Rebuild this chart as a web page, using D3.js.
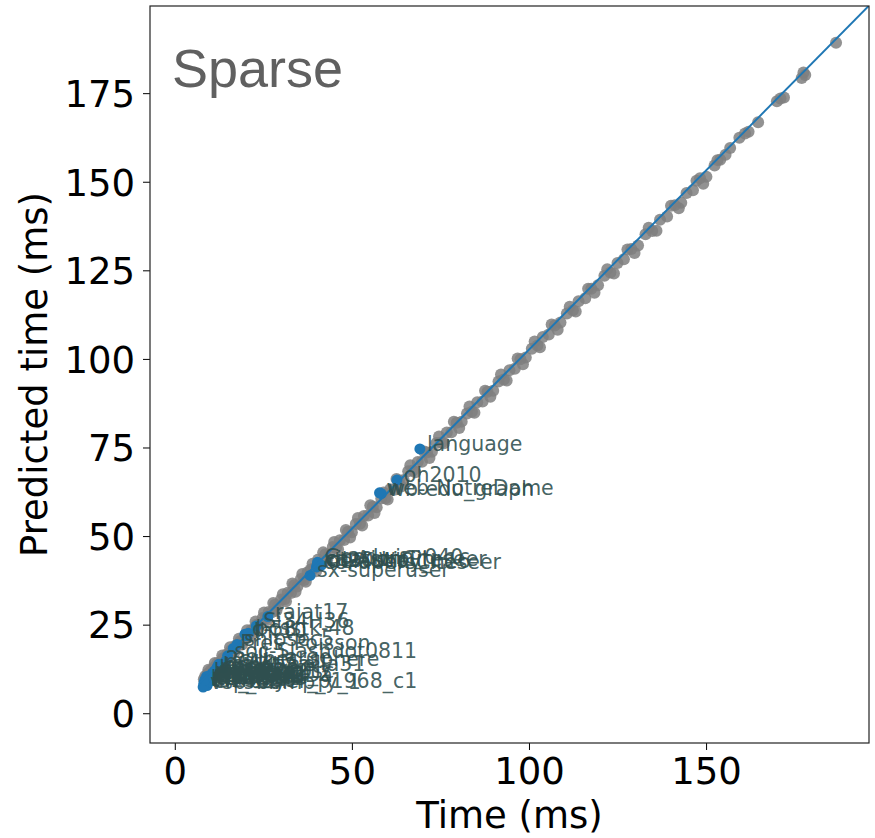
<!DOCTYPE html>
<html>
<head>
<meta charset="utf-8">
<script src="https://cdn.jsdelivr.net/npm/d3@7/dist/d3.min.js"></script>
<style>
  body { margin: 0; background: #fff; }
  svg { display: block; }
</style>
</head>
<body>
<div id="chart"></div>
<script>
// measured vs predicted time, unlabeled matrices (gray)
var grayTime = [8.2, 8.6, 9.0, 9.3, 9.8, 10.2, 10.7, 11.1, 11.6, 12.0, 12.5, 13.1, 13.6, 14.2, 14.8, 15.3, 15.9, 16.6, 17.2, 17.9,
  18.5, 19.3, 20.1, 20.8, 21.6, 22.4, 23.1, 24.0, 24.8, 25.7, 26.5, 27.4, 28.3, 29.1, 30.0, 31.0, 31.9, 32.8, 33.7, 34.6,
  35.6, 36.5, 37.5, 38.4, 39.4, 40.5, 41.4, 42.5, 43.6, 44.6, 45.5, 46.6, 47.8, 48.9, 50.0, 51.1, 52.3, 53.4, 54.6, 55.9,
  57.0, 58.3, 59.5, 60.8, 62.0, 63.3, 64.6, 65.9, 67.2, 68.6, 69.8, 71.2, 72.6, 73.9, 75.3, 76.8, 78.1, 79.6, 81.0, 82.5,
  83.9, 85.4, 86.9, 88.3, 89.9, 91.4, 92.9, 94.5, 96.0, 97.6, 99.1, 100.8, 102.4, 103.9, 105.6, 107.3, 108.9, 110.7, 112.4, 114.0,
  115.9, 117.6, 119.5, 121.3, 123.0, 125.0, 126.8, 128.9, 130.8, 132.9, 134.8, 137.0, 139.0, 141.2, 143.0, 144.5, 146.3, 148.3, 150.1, 152.4,
  154.0, 156.8, 159.4, 162.0, 164.7, 170.0, 172.0, 177.0, 178.0, 186.7,
  9.5, 10.4, 11.3, 12.2, 13.4, 14.5, 15.6, 16.9, 18.1, 19.0, 20.4, 21.2, 22.8, 23.5, 25.2, 26.1, 27.8, 28.7, 30.5, 31.4,
  33.2, 34.1, 36.0, 37.0, 38.9, 39.9, 41.9, 43.0, 45.0, 46.1, 48.3, 49.5, 51.7, 52.9, 55.2, 56.4, 58.9, 60.1, 62.6, 63.9,
  66.5, 67.9, 70.4, 71.9, 74.6, 76.0, 78.8, 80.3, 83.2, 84.6, 87.6, 89.1, 92.1, 93.7, 96.8, 98.3, 101.6, 103.1, 106.4, 108.1,
  111.5, 113.2, 116.7, 118.5, 122.1, 124.0, 127.8, 129.8, 133.8, 136.0, 140.1, 142.3, 147.3, 149.2, 153.2, 155.5, 161.0, 171.0, 177.5];
var grayPred = [9.6, 10.5, 10.1, 11.2, 11.0, 12.1, 12.0, 13.0, 12.8, 14.1, 13.9, 14.6, 15.5, 15.4, 16.7, 16.5, 17.8, 17.9, 19.1, 19.2,
  20.4, 20.6, 22.0, 22.1, 23.5, 23.6, 25.0, 25.3, 26.9, 26.8, 28.6, 28.5, 30.6, 30.2, 32.1, 32.2, 34.0, 33.9, 36.1, 35.8,
  37.9, 37.6, 39.8, 40.6, 40.9, 43.4, 42.6, 44.9, 44.8, 46.9, 46.7, 48.8, 48.9, 51.2, 51.1, 53.4, 53.5, 55.7, 55.8, 58.3,
  58.1, 60.6, 60.7, 63.2, 63.1, 65.7, 65.8, 68.3, 68.5, 70.9, 71.0, 73.6, 73.8, 76.3, 76.4, 79.2, 79.3, 82.0, 82.3, 84.6,
  85.1, 87.8, 88.0, 90.7, 91.0, 93.6, 94.2, 96.8, 97.2, 99.9, 100.4, 102.9, 103.8, 106.2, 106.9, 109.4, 110.3, 112.8, 113.7, 116.3,
  117.1, 119.8, 120.8, 123.5, 124.4, 127.1, 128.1, 131.0, 132.0, 135.2, 136.1, 139.3, 140.2, 143.4, 144.1, 146.8, 147.6, 151.0, 151.4, 154.6,
  156.2, 159.5, 162.4, 164.1, 166.8, 172.7, 173.8, 179.3, 180.1, 189.2,
  12.3, 11.2, 14.2, 12.9, 16.3, 14.9, 18.6, 17.3, 21.0, 19.4, 23.4, 21.6, 25.9, 23.8, 28.4, 26.3, 31.1, 28.9, 33.6, 31.6,
  36.6, 34.3, 39.3, 37.1, 42.2, 40.1, 45.4, 43.2, 48.3, 46.3, 51.7, 49.6, 55.1, 53.0, 58.7, 56.5, 62.3, 60.3, 66.1, 64.0,
  70.0, 68.0, 73.9, 72.0, 78.1, 76.2, 82.3, 80.5, 86.6, 84.8, 91.0, 89.3, 95.6, 93.9, 100.1, 98.5, 104.9, 103.3, 109.7, 108.2,
  114.7, 113.4, 119.8, 118.7, 125.3, 124.1, 130.9, 129.9, 137.0, 136.2, 143.2, 142.5, 150.3, 149.4, 156.1, 157.6, 163.6, 173.5, 180.8];

// labeled matrices (blue)
var labelNames = ["language", "oh2010", "web-NotreDame", "wb-edu_graph",
  "coPapersCiteseer", "citationCiteseer", "ca-AstroPh", "delaunay_n16", "Goodwin_040", "ct20stif", "sx-superuser",
  "rajat17", "c-58", "lhr10", "bcsstk-48", "Si34H36", "Pres_Poisson", "soc-Slashdot0811", "cavity_ella31", "poli_large",
  "2cubes_sphere", "cage12", "bcsstk32", "g7jac200sc", "sme3Dc", "crankseg_2", "poisson3Da", "ship_003",
  "mc2depi", "lung2", "nd12k", "twotone", "thermal1", "ncvxqp1", "af23560", "ch_bayer_p1968_c1", "vsp_bump_y_1",
  "shipsec5", "pwtk", "gyro_k", "bmwcra_1", "hood", "msdoor", "ecology2", "apache2"];
var labelTime = [69.2, 62.7, 57.8, 58.3,
  40.0, 40.4, 40.6, 41.0, 40.3, 41.4, 38.2,
  26.3, 19.8, 20.3, 20.8, 23.0, 16.5, 14.9, 13.8, 14.3,
  12.4, 11.2, 10.6, 10.1, 9.6, 9.2, 8.9, 8.6,
  8.4, 8.2, 9.9, 10.8, 9.4, 8.7, 8.3, 9.1, 8.0,
  17.6, 12.0, 10.4, 9.0, 11.6, 9.8, 8.5, 10.9];
var labelPred = [74.6, 65.8, 62.2, 62.0,
  41.3, 42.2, 42.0, 41.6, 42.6, 41.8, 38.9,
  27.3, 22.3, 21.9, 22.6, 24.6, 18.3, 16.2, 12.6, 14.6,
  13.8, 11.9, 11.3, 10.6, 10.2, 9.8, 9.5, 9.1,
  8.8, 8.4, 9.9, 10.9, 9.6, 8.6, 7.9, 7.8, 7.4,
  19.4, 13.1, 9.2, 10.4, 12.2, 8.9, 9.4, 10.1];

var lineTime = [7.0, 196.0];
var linePred = [8.6, 199.7];

var xTicks = [0, 50, 100, 150];
var yTicks = [0, 25, 50, 75, 100, 125, 150, 175];

var W = 875, H = 838;
var margin = { top: 6, right: 6, bottom: 95, left: 150 },
    width = W - margin.left - margin.right,
    height = H - margin.top - margin.bottom;

var x = d3.scaleLinear().domain([-7.0, 196.0]).range([0, width]);
var y = d3.scaleLinear().domain([-8.4, 199.6]).range([height, 0]);

var svg = d3.select("#chart").append("svg")
    .attr("width", W)
    .attr("height", H)
    .style("font-family", "'DejaVu Sans', sans-serif");

var g = svg.append("g")
    .attr("transform", "translate(" + margin.left + "," + margin.top + ")");

g.append("clipPath").attr("id", "clip")
  .append("rect").attr("width", width).attr("height", height);

var plot = g.append("g").attr("clip-path", "url(#clip)");

var gray = grayTime.map(function(t, i) { return { t: t, p: grayPred[i] }; });
var blue = labelNames.map(function(n, i) { return { name: n, t: labelTime[i], p: labelPred[i] }; });

plot.selectAll(".gdot")
    .data(gray)
  .enter().append("circle")
    .attr("class", "gdot")
    .attr("cx", function(d) { return x(d.t); })
    .attr("cy", function(d) { return y(d.p); })
    .attr("r", 6)
    .style("fill", "#7f7f7f")
    .style("opacity", 0.85);

plot.selectAll(".bdot")
    .data(blue)
  .enter().append("circle")
    .attr("class", "bdot")
    .attr("cx", function(d) { return x(d.t); })
    .attr("cy", function(d) { return y(d.p); })
    .attr("r", 5.5)
    .style("fill", "#1f77b4");

plot.append("path")
    .datum(lineTime.map(function(t, i) { return [t, linePred[i]]; }))
    .attr("d", d3.line().x(function(d) { return x(d[0]); }).y(function(d) { return y(d[1]); }))
    .style("fill", "none")
    .style("stroke", "#1f77b4")
    .style("stroke-width", 2);

g.selectAll(".lbl")
    .data(blue)
  .enter().append("text")
    .attr("class", "lbl")
    .attr("x", function(d) { return x(d.t) + 7; })
    .attr("y", function(d) { return y(d.p) + 2; })
    .style("font-size", "20.5px")
    .style("fill", "#2f4f4f")
    .style("fill-opacity", 0.9)
    .text(function(d) { return d.name; });

// axes
var xAxis = d3.axisBottom(x).tickValues(xTicks).tickSize(7).tickPadding(8);
var yAxis = d3.axisLeft(y).tickValues(yTicks).tickSize(7).tickPadding(8);

var gX = g.append("g")
    .attr("transform", "translate(0," + height + ")")
    .call(xAxis);
var gY = g.append("g").call(yAxis);

[gX, gY].forEach(function(a) {
  a.select(".domain").remove();
  a.selectAll("line").style("stroke", "#000").style("stroke-width", 1);
  a.selectAll("text").style("font-family", "'DejaVu Sans', sans-serif")
    .style("font-size", "37px").style("fill", "#000");
});
gY.selectAll("text").attr("dy", "0.36em");

g.append("rect")
    .attr("width", width)
    .attr("height", height)
    .style("fill", "none")
    .style("stroke", "#222")
    .style("stroke-width", 1.2);

// axis labels
svg.append("text")
    .attr("x", margin.left + width / 2)
    .attr("y", 828)
    .attr("text-anchor", "middle")
    .style("font-size", "37px")
    .text("Time (ms)");

svg.append("text")
    .attr("transform", "translate(47," + (margin.top + height / 2) + ") rotate(-90)")
    .attr("text-anchor", "middle")
    .style("font-size", "37px")
    .text("Predicted time (ms)");

svg.append("text")
    .attr("x", 172)
    .attr("y", 87)
    .style("font-family", "'Liberation Sans', Arial, sans-serif")
    .style("font-size", "54px")
    .style("fill", "#606060")
    .text("Sparse");
</script>
</body>
</html>
